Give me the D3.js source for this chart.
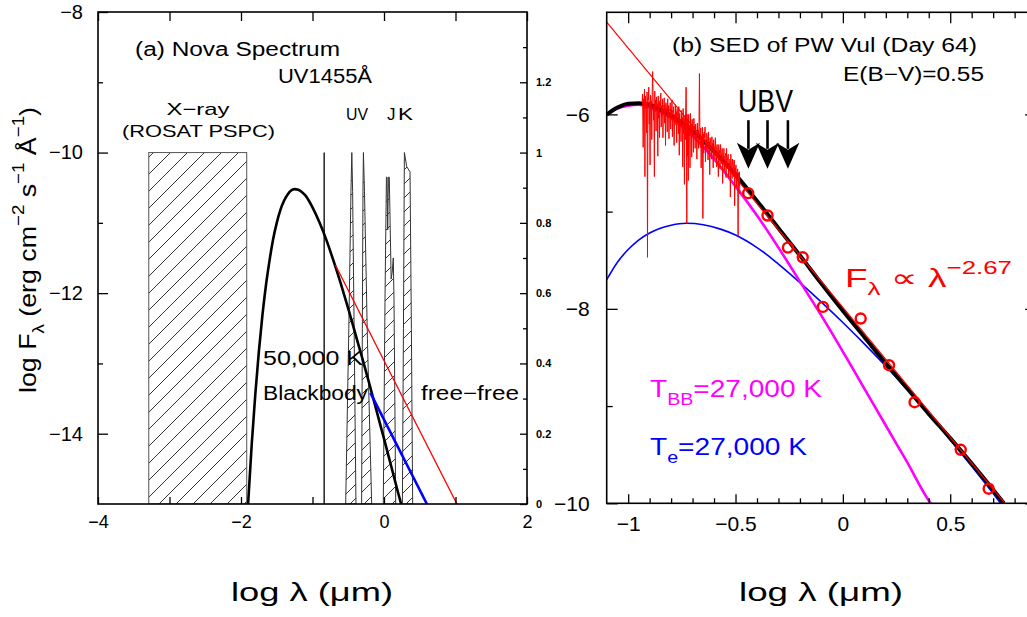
<!DOCTYPE html>
<html>
<head>
<meta charset="utf-8">
<script src="https://cdn.jsdelivr.net/npm/d3@7"></script>
<style>
  body { margin: 0; background: #fff; }
  svg { display: block; }
</style>
</head>
<body>
<script>
// ---------------- data: panel (a) nova spectrum ----------------
// X-ray band (ROSAT PSPC), log λ range and flux ceiling
const xrayBand = [-3.29, -1.92];
const xrayTopLogF = -10;
// IUE 1455 Å continuum marker (log μm), transmission height
const uv1455Wave = -0.837;
const uv1455Height = 1.0;
// filter transmission curves [log λ, T]
const filterU = [[-0.536,0],[-0.492,0.50],[-0.462,0.89],[-0.450,1.0],[-0.439,0.89],[-0.418,0.50],[-0.392,0]];
const filterV = [[-0.313,0],[-0.303,0.50],[-0.294,0.89],[-0.288,1.0],[-0.273,0.89],[-0.232,0.47],[-0.172,0]];
const filterJ = [[-0.010,0],[0.015,0.60],[0.034,0.93],[0.042,0.93],[0.052,0.78],[0.062,0.93],[0.074,0.93],[0.100,0.64],[0.115,0.66],[0.130,0.70],[0.140,0.58],[0.164,0]];
const filterK = [[0.257,0],[0.272,0.50],[0.285,1.0],[0.318,0.96],[0.364,0.945],[0.383,0.50],[0.401,0]];
// 50,000 K blackbody [log λ, log Fλ]
const bb50k = [[-1.902,-15.02],[-1.85,-14.15],[-1.80,-13.44],[-1.75,-12.83],[-1.70,-12.31],[-1.65,-11.88],[-1.60,-11.53],
  [-1.55,-11.23],[-1.50,-11.00],[-1.45,-10.82],[-1.40,-10.69],[-1.35,-10.60],[-1.30,-10.54],[-1.25,-10.52],[-1.20,-10.53],
  [-1.15,-10.56],[-1.10,-10.61],[-1.00,-10.78],[-0.90,-11.00],[-0.80,-11.26],[-0.70,-11.56],[-0.60,-11.88],[-0.50,-12.22],
  [-0.40,-12.58],[-0.30,-12.94],[-0.20,-13.31],[-0.10,-13.69],[0.00,-14.07],[0.10,-14.46],[0.20,-14.85],[0.24,-15.00]];
// free-free (λ^-2) segments
const freeFreeRed = [[-0.68,-11.60],[1.02,-15.00]];
const freeFreeBlue = [[-0.19,-13.42],[0.60,-15.00]];

// ---------------- data: panel (b) PW Vul SED ----------------
const totalModel = [[-1.10,-6.00],[-1.05,-5.93],[-1.00,-5.89],[-0.95,-5.885],[-0.90,-5.90],[-0.85,-5.95],[-0.80,-6.01],
  [-0.70,-6.17],[-0.60,-6.38],[-0.50,-6.62],[-0.40,-6.89],[-0.30,-7.17],[-0.20,-7.45],[-0.10,-7.74],[0.00,-8.02],
  [0.10,-8.29],[0.20,-8.56],[0.30,-8.82],[0.40,-9.08],[0.50,-9.33],[0.60,-9.59],[0.70,-9.86],[0.75,-10.00]];
const blackbody27k = [[-1.10,-6.01],[-1.05,-5.94],[-1.00,-5.91],[-0.95,-5.90],[-0.90,-5.93],[-0.85,-5.97],[-0.80,-6.04],
  [-0.70,-6.22],[-0.60,-6.46],[-0.50,-6.74],[-0.40,-7.04],[-0.30,-7.37],[-0.20,-7.72],[-0.10,-8.07],[0.00,-8.44],
  [0.10,-8.82],[0.20,-9.20],[0.30,-9.58],[0.40,-9.97],[0.41,-10.00]];
const freeFree27k = [[-1.10,-7.70],[-1.05,-7.52],[-1.00,-7.39],[-0.95,-7.29],[-0.90,-7.22],[-0.85,-7.17],[-0.80,-7.14],
  [-0.73,-7.12],[-0.65,-7.135],[-0.57,-7.18],[-0.50,-7.24],[-0.45,-7.30],[-0.40,-7.37],[-0.35,-7.45],[-0.30,-7.54],
  [-0.20,-7.73],[-0.10,-7.93],[0.00,-8.14],[0.10,-8.36],[0.20,-8.59],[0.30,-8.83],[0.40,-9.08],[0.50,-9.35],
  [0.60,-9.62],[0.70,-9.90],[0.735,-10.00]];
const powerLawFit = [[-1.10,-5.05],[0.755,-10.00]];
const photometry = [[-0.441,-6.81],[-0.351,-7.04],[-0.256,-7.37],[-0.187,-7.47],[-0.093,-7.98],[0.083,-8.10],
  [0.215,-8.58],[0.334,-8.96],[0.549,-9.45],[0.679,-9.85]];
const ubvWave = [-0.440, -0.351, -0.256];
const arrowTopLogF = -6.06, arrowTipLogF = -6.56;
// IUE spectrum [log λ, log Fλ]
const iueSpectrum = [
  [-0.935,-5.86],[-0.933,-5.79],[-0.930,-6.34],[-0.928,-5.84],[-0.926,-5.87],[-0.924,-5.74],[-0.922,-6.64],[-0.920,-5.81],
  [-0.918,-5.94],[-0.916,-5.87],[-0.914,-6.19],[-0.912,-5.77],[-0.910,-7.47],[-0.908,-5.83],[-0.906,-5.85],[-0.904,-5.72],
  [-0.902,-6.10],[-0.900,-5.87],[-0.898,-6.52],[-0.896,-5.80],[-0.894,-5.88],[-0.892,-5.86],[-0.890,-6.26],[-0.888,-5.77],
  [-0.886,-5.56],[-0.884,-5.83],[-0.882,-6.06],[-0.880,-5.90],[-0.878,-6.64],[-0.876,-5.76],[-0.874,-5.97],[-0.872,-5.85],
  [-0.870,-6.17],[-0.868,-5.82],[-0.866,-5.89],[-0.864,-5.89],[-0.862,-6.43],[-0.860,-5.81],[-0.858,-6.04],[-0.856,-5.88],
  [-0.854,-6.24],[-0.852,-5.86],[-0.850,-5.92],[-0.848,-5.78],[-0.846,-6.13],[-0.844,-5.91],[-0.842,-6.01],[-0.840,-5.84],
  [-0.838,-6.24],[-0.836,-5.93],[-0.834,-5.90],[-0.832,-5.83],[-0.830,-6.09],[-0.828,-5.90],[-0.826,-6.32],[-0.824,-5.88],
  [-0.822,-5.96],[-0.820,-5.94],[-0.818,-6.18],[-0.816,-5.84],[-0.814,-6.03],[-0.812,-5.91],[-0.810,-6.25],[-0.808,-5.97],
  [-0.806,-5.94],[-0.804,-5.88],[-0.802,-6.15],[-0.800,-5.94],[-0.798,-6.02],[-0.796,-5.85],[-0.794,-6.23],[-0.792,-5.96],
  [-0.790,-5.98],[-0.788,-5.92],[-0.786,-6.32],[-0.784,-6.00],[-0.782,-6.11],[-0.780,-5.90],[-0.778,-6.06],[-0.776,-5.97],
  [-0.774,-6.29],[-0.772,-5.94],[-0.770,-6.02],[-0.768,-6.01],[-0.766,-6.20],[-0.764,-5.92],[-0.762,-6.42],[-0.760,-5.99],
  [-0.758,-6.12],[-0.756,-6.05],[-0.754,-6.28],[-0.752,-5.96],[-0.750,-6.06],[-0.748,-6.03],[-0.746,-6.54],[-0.744,-5.94],
  [-0.742,-6.20],[-0.740,-6.05],[-0.738,-6.72],[-0.736,-6.01],[-0.734,-6.26],[-0.732,-5.93],[-0.730,-5.72],[-0.7285,-6.08],
  [-0.727,-7.12],[-0.7255,-6.00],[-0.724,-6.43],[-0.722,-6.06],[-0.720,-6.68],[-0.718,-6.00],[-0.716,-6.22],[-0.714,-6.11],
  [-0.712,-6.55],[-0.710,-5.99],[-0.708,-6.17],[-0.706,-6.10],[-0.704,-6.44],[-0.702,-6.05],[-0.700,-6.23],[-0.698,-6.13],
  [-0.696,-6.39],[-0.694,-6.04],[-0.692,-6.15],[-0.690,-6.12],[-0.688,-6.35],[-0.686,-6.10],[-0.684,-6.24],[-0.682,-6.18],
  [-0.680,-6.46],[-0.678,-6.09],[-0.676,-6.20],[-0.674,-6.16],[-0.672,-6.35],[-0.670,-6.08],[-0.668,-5.58],[-0.666,-6.19],
  [-0.664,-6.34],[-0.662,-6.14],[-0.660,-6.55],[-0.658,-6.22],[-0.656,-6.29],[-0.654,-6.13],[-0.652,-7.07],[-0.650,-6.20],
  [-0.648,-6.40],[-0.646,-6.18],[-0.644,-6.24],[-0.642,-6.13],[-0.640,-6.49],[-0.638,-6.26],[-0.636,-6.36],[-0.634,-6.19],
  [-0.632,-6.23],[-0.630,-6.25],[-0.628,-6.47],[-0.626,-6.18],[-0.624,-6.35],[-0.622,-6.28],[-0.620,-6.62],[-0.618,-6.24],
  [-0.616,-6.30],[-0.614,-6.32],[-0.612,-6.46],[-0.610,-6.23],[-0.608,-6.34],[-0.606,-6.30],[-0.604,-6.55],[-0.602,-6.26],
  [-0.600,-6.32],[-0.598,-6.34],[-0.596,-6.46],[-0.594,-6.24],[-0.592,-6.35],[-0.590,-6.34],[-0.588,-6.54],[-0.586,-6.31],
  [-0.584,-6.42],[-0.582,-6.39],[-0.580,-6.64],[-0.578,-6.31],[-0.576,-6.40],[-0.574,-6.37],[-0.572,-6.56],[-0.570,-6.31],
  [-0.568,-6.40],[-0.566,-6.40],[-0.564,-6.51],[-0.562,-6.35],[-0.560,-6.71],[-0.558,-6.43],[-0.556,-6.45],[-0.554,-6.35],
  [-0.552,-6.58],[-0.550,-6.43],[-0.548,-6.43],[-0.546,-6.40],[-0.544,-6.65],[-0.542,-6.35],[-0.540,-6.54],[-0.538,-6.47],
  [-0.536,-6.44],[-0.534,-6.41],[-0.532,-6.65],[-0.530,-6.50],[-0.528,-6.56],[-0.526,-6.46],[-0.524,-6.85],[-0.522,-6.41],
  [-0.520,-6.51],[-0.518,-6.51],[-0.516,-6.66],[-0.514,-6.46],[-0.512,-6.47],[-0.510,-6.55],[-0.508,-6.64],[-0.506,-6.47],
  [-0.504,-6.94],[-0.502,-6.55],[-0.500,-6.64],[-0.498,-6.52],[-0.496,-6.75],[-0.494,-6.59],[-0.492,-6.59],[-0.490,-6.56],
  [-0.488,-7.25],[-0.486,-6.60],[-0.484,-6.74],[-0.482,-6.59],[-0.480,-6.82]];

// ---------------- tick values ----------------
const logFTicksA = [-14, -12, -10, -8], logFMinorA = [-13, -11, -9];
const waveTicksA = [-4, -2, 0, 2], waveMinorA = [-3, -1, 1];
const transTicks = [0, 0.2, 0.4, 0.6, 0.8, 1.0, 1.2], transMinor = [0.1, 0.3, 0.5, 0.7, 0.9, 1.1, 1.3];
const logFTicksB = [-10, -8, -6], logFMinorB = [-9, -7];
const waveTicksB = [-1, -0.5, 0, 0.5];
const waveMinorB = [-0.9, -0.8, -0.7, -0.6, -0.4, -0.3, -0.2, -0.1, 0.1, 0.2, 0.3, 0.4, 0.6, 0.7, 0.8];

// ---------------- setup ----------------
const FONT = '"Liberation Sans", Arial, sans-serif';
const RED = "#ff0000", BLUE = "#0000ff", MAGENTA = "#ff00ff";

const svg = d3.select("body").append("svg").attr("width", 1027).attr("height", 617)
  .attr("font-family", FONT);

const A = { x0: 98, x1: 527, y0: 12, y1: 504 };
const B = { x0: 606.7, x1: 1036.1, y0: 12.3, y1: 503.3 };

const xA = d3.scaleLinear().domain([-4, 2]).range([A.x0, A.x1]);
const yA = d3.scaleLinear().domain([-15, -8]).range([A.y1, A.y0]);
const tA = d3.scaleLinear().domain([0, 1.4]).range([A.y1, A.y0]);
const xB = d3.scaleLinear().domain([-1.1, 0.9]).range([B.x0, B.x1]);
const yB = d3.scaleLinear().domain([-10, -4.95]).range([B.y1, B.y0]);

const defs = svg.append("defs");
defs.append("clipPath").attr("id", "clipA").append("rect")
  .attr("x", A.x0).attr("y", A.y0).attr("width", A.x1 - A.x0).attr("height", A.y1 - A.y0);
defs.append("clipPath").attr("id", "clipB").append("rect")
  .attr("x", B.x0).attr("y", B.y0).attr("width", B.x1 - B.x0).attr("height", B.y1 - B.y0);

function hatch(id, s) {
  defs.append("pattern").attr("id", id).attr("patternUnits", "userSpaceOnUse")
    .attr("width", s).attr("height", s)
    .append("path")
    .attr("d", `M-2,2 l4,-4 M0,${s} l${s},${-s} M${s - 2},${s + 2} l4,-4`)
    .attr("stroke", "#000").attr("stroke-width", 0.8).attr("fill", "none");
}
hatch("hatchBox", 17);
hatch("hatchFilter", 14);

// rich text with sub/superscripts
function rich(g, x, y, parts, size, opts = {}) {
  const t = g.append("text").attr("x", x).attr("y", y).attr("font-size", size)
    .attr("fill", opts.fill || "#000");
  if (opts.anchor) t.attr("text-anchor", opts.anchor);
  if (opts.len) t.attr("textLength", opts.len).attr("lengthAdjust", "spacingAndGlyphs");
  if (opts.transform) t.attr("transform", opts.transform);
  let shift = 0;
  for (const p of parts) {
    const s = typeof p === "string" ? { t: p } : p;
    const target = s.sub ? size * 0.32 : s.sup ? -size * 0.5 : 0;
    t.append("tspan").attr("dy", target - shift)
      .attr("font-size", (s.sub || s.sup) ? size * 0.7 : size).text(s.t);
    shift = target;
  }
  return t;
}

function axis(gen, tx, ty, values, size, opts = {}) {
  const a = svg.append("g").attr("transform", `translate(${tx},${ty})`)
    .call(gen.tickValues(values).tickSize(size).tickPadding(opts.pad || 0)
      .tickFormat(opts.labels ? d3.format("~g") : ""));
  a.select(".domain").remove();
  a.attr("font-family", FONT).attr("font-size", opts.fontSize || 10);
  a.selectAll("line").attr("stroke", "#000").attr("stroke-width", 1.3);
  a.selectAll("text").attr("fill", "#000");
  if (opts.bold) a.selectAll("text").attr("font-weight", "bold");
  return a;
}

const line = (x, y, curve) => d3.line().x(d => x(d[0])).y(d => y(d[1])).curve(curve || d3.curveLinear);

// ---------------- panel (a) ----------------
const gA = svg.append("g").attr("clip-path", "url(#clipA)");

gA.append("rect")
  .attr("x", xA(xrayBand[0])).attr("y", yA(xrayTopLogF))
  .attr("width", xA(xrayBand[1]) - xA(xrayBand[0]))
  .attr("height", yA(-15) - yA(xrayTopLogF))
  .attr("fill", "url(#hatchBox)").attr("stroke", "#555").attr("stroke-width", 1);

const filterArea = d3.area().x(d => xA(d[0])).y0(tA(0)).y1(d => tA(d[1]));
[filterU, filterV, filterJ, filterK].forEach(f => {
  gA.append("path").attr("d", filterArea(f))
    .attr("fill", "url(#hatchFilter)").attr("stroke", "#333").attr("stroke-width", 1);
});

gA.append("line")
  .attr("x1", xA(uv1455Wave)).attr("x2", xA(uv1455Wave))
  .attr("y1", tA(0)).attr("y2", tA(uv1455Height))
  .attr("stroke", "#000").attr("stroke-width", 1.3);

gA.append("path").attr("d", line(xA, yA, d3.curveMonotoneX)(bb50k))
  .attr("fill", "none").attr("stroke", "#000").attr("stroke-width", 2.6);
gA.append("path").attr("d", line(xA, yA)(freeFreeRed))
  .attr("fill", "none").attr("stroke", RED).attr("stroke-width", 1.3);
gA.append("path").attr("d", line(xA, yA)(freeFreeBlue))
  .attr("fill", "none").attr("stroke", BLUE).attr("stroke-width", 2.6);

// frame and ticks
svg.append("rect").attr("x", A.x0).attr("y", A.y0).attr("width", A.x1 - A.x0).attr("height", A.y1 - A.y0)
  .attr("fill", "none").attr("stroke", "#000").attr("stroke-width", 1.6);
axis(d3.axisLeft(yA), A.x0, 0, logFMinorA, -5);
axis(d3.axisLeft(yA), A.x0, 0, logFTicksA, -10, { labels: true, pad: 15, fontSize: 20 });
axis(d3.axisBottom(xA), 0, A.y1, waveMinorA, -7);
axis(d3.axisBottom(xA), 0, A.y1, waveTicksA, -7, { labels: true, pad: 11, fontSize: 18 });
axis(d3.axisTop(xA), 0, A.y0, waveMinorA.concat(waveTicksA), -9);
axis(d3.axisRight(tA), A.x1, 0, transMinor, -4);
axis(d3.axisRight(tA), A.x1, 0, transTicks, -7, { labels: true, pad: 9, fontSize: 11, bold: true });

// labels
rich(svg, 135, 56, ["(a) Nova Spectrum"], 20, { len: 205 });
rich(svg, 278, 83, ["UV1455Å"], 20, { len: 94 });
rich(svg, 198, 115, ["X−ray"], 17, { anchor: "middle", len: 63 });
rich(svg, 122, 137, ["(ROSAT PSPC)"], 17, { len: 153 });
rich(svg, 346, 120, ["UV"], 17, { len: 22 });
rich(svg, 387, 120, ["J"], 17);
rich(svg, 398, 120, ["K"], 17, { len: 15 });
rich(svg, 263, 365, ["50,000 K"], 20, { len: 100 });
rich(svg, 263, 400, ["Blackbody"], 20, { len: 105 });
rich(svg, 421, 400, ["free−free"], 20, { len: 98 });
rich(svg, 36, 250,
  ["log F", { t: "λ", sub: true }, " (erg cm", { t: "−2", sup: true }, " s", { t: "−1", sup: true },
   " Å", { t: "−1", sup: true }, ")"], 24,
  { anchor: "middle", len: 286, transform: "rotate(-90,36,250)" });
rich(svg, 312, 601, ["log λ (μm)"], 26, { anchor: "middle", len: 162 });

// ---------------- panel (b) ----------------
const gB = svg.append("g").attr("clip-path", "url(#clipB)");

gB.append("path").attr("d", line(xB, yB, d3.curveMonotoneX)(freeFree27k))
  .attr("fill", "none").attr("stroke", BLUE).attr("stroke-width", 1.6);
gB.append("path").attr("d", line(xB, yB, d3.curveMonotoneX)(blackbody27k))
  .attr("fill", "none").attr("stroke", MAGENTA).attr("stroke-width", 2.6);
gB.append("path").attr("d", line(xB, yB, d3.curveMonotoneX)(totalModel))
  .attr("fill", "none").attr("stroke", "#000").attr("stroke-width", 4);
gB.append("path").attr("d", line(xB, yB)(powerLawFit))
  .attr("fill", "none").attr("stroke", RED).attr("stroke-width", 1.2);
gB.append("path").attr("d", line(xB, yB)(iueSpectrum))
  .attr("fill", "none").attr("stroke", RED).attr("stroke-width", 1).attr("stroke-linejoin", "bevel");
gB.selectAll("circle.phot").data(photometry).join("circle").attr("class", "phot")
  .attr("cx", d => xB(d[0])).attr("cy", d => yB(d[1])).attr("r", 5)
  .attr("fill", "none").attr("stroke", RED).attr("stroke-width", 2.4);

// U, B, V arrows
ubvWave.forEach(w => {
  const x = xB(w), yTop = yB(arrowTopLogF), yTip = yB(arrowTipLogF);
  const headLen = 26, half = 11.5;
  svg.append("line").attr("x1", x).attr("x2", x).attr("y1", yTop).attr("y2", yTip - headLen + 6)
    .attr("stroke", "#000").attr("stroke-width", 2.6);
  svg.append("path")
    .attr("d", `M${x},${yTip} L${x - half},${yTip - headLen} L${x},${yTip - headLen + 7} L${x + half},${yTip - headLen} Z`)
    .attr("fill", "#000");
});

// frame and ticks
svg.append("rect").attr("x", B.x0).attr("y", B.y0).attr("width", B.x1 - B.x0).attr("height", B.y1 - B.y0)
  .attr("fill", "none").attr("stroke", "#000").attr("stroke-width", 1.6);
axis(d3.axisLeft(yB), B.x0, 0, logFMinorB, -6);
axis(d3.axisLeft(yB), B.x0, 0, logFTicksB, -11, { labels: true, pad: 17, fontSize: 21 });
axis(d3.axisRight(yB), B.x1, 0, logFMinorB, -6);
axis(d3.axisRight(yB), B.x1, 0, logFTicksB, -11);
axis(d3.axisBottom(xB), 0, B.y1, waveMinorB, -5);
axis(d3.axisBottom(xB), 0, B.y1, waveTicksB, -9, { labels: true, pad: 13, fontSize: 21 });
axis(d3.axisTop(xB), 0, B.y0, waveMinorB, -6);
axis(d3.axisTop(xB), 0, B.y0, waveTicksB, -11);

// labels
rich(svg, 672, 52, ["(b) SED of PW Vul (Day 64)"], 20, { len: 305 });
rich(svg, 843, 81, ["E(B−V)=0.55"], 20, { len: 141 });
rich(svg, 738, 112, ["UBV"], 32, { len: 55 });
rich(svg, 845, 287, ["F", { t: "λ", sub: true }, "  ∝  λ", { t: "−2.67", sup: true }], 26, { fill: RED, len: 167 });
rich(svg, 650, 397, ["T", { t: "BB", sub: true }, "=27,000 K"], 24, { fill: MAGENTA, len: 172 });
rich(svg, 650, 455, ["T", { t: "e", sub: true }, "=27,000 K"], 24, { fill: BLUE, len: 157 });
rich(svg, 821, 601, ["log λ (μm)"], 26, { anchor: "middle", len: 164 });
</script>
</body>
</html>
